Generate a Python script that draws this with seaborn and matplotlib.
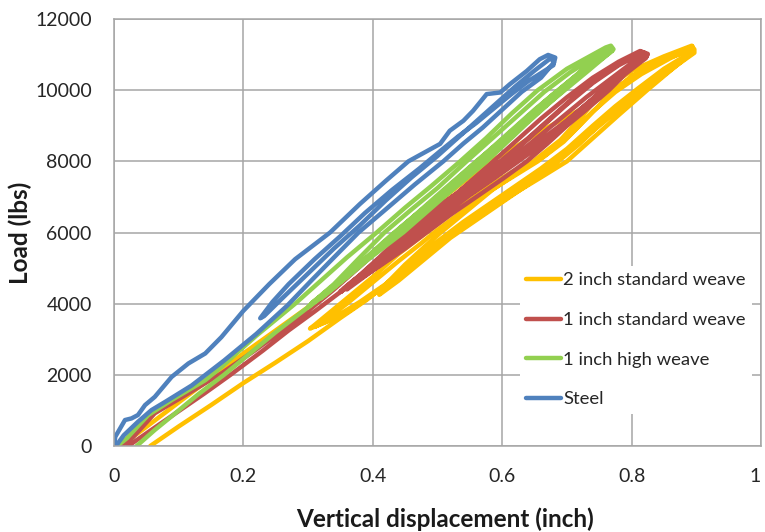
import numpy as np
import pandas as pd
import seaborn as sns
import matplotlib.pyplot as plt

# load-displacement paths, (displacement in inch, load in lbs)
steel_path = [
    (0.0, 0), (0.002, 260), (0.017, 730), (0.027, 775), (0.037, 870), (0.048, 1150), (0.063, 1380),
    (0.089, 1940), (0.115, 2320), (0.141, 2600), (0.166, 3060), (0.2, 3800), (0.24, 4550), (0.28, 5250),
    (0.334, 6000), (0.38, 6800), (0.42, 7450), (0.455, 8000), (0.504, 8490), (0.519, 8860), (0.54, 9140),
    (0.555, 9420), (0.576, 9890), (0.597, 9935), (0.612, 10170), (0.638, 10540), (0.658, 10870),
    (0.671, 10990), (0.682, 10915),
    (0.679, 10700), (0.66, 10480), (0.64, 10250), (0.615, 9900), (0.588, 9500), (0.56, 9080),
    (0.532, 8700), (0.505, 8300), (0.472, 7800), (0.43, 7200), (0.388, 6550), (0.35, 5900), (0.31, 5250),
    (0.27, 4550), (0.245, 4050), (0.226, 3590),
    (0.232, 3650), (0.26, 4150), (0.3, 4850), (0.34, 5550), (0.38, 6200), (0.42, 6900), (0.46, 7550),
    (0.5, 8150), (0.54, 8800), (0.58, 9450), (0.62, 10100), (0.65, 10550), (0.675, 10900),
    (0.68, 10780), (0.66, 10350), (0.63, 9950), (0.6, 9450), (0.57, 8950), (0.54, 8500), (0.509, 8000),
    (0.465, 7350), (0.42, 6650), (0.378, 6000), (0.34, 5300), (0.305, 4650), (0.268, 3950), (0.22, 3150),
    (0.17, 2400), (0.12, 1700), (0.08, 1250), (0.058, 1010), (0.037, 680), (0.015, 300), (0.003, 0),
]

high_weave_path = [
    (0.005, 0), (0.02, 220), (0.035, 520), (0.053, 870), (0.089, 1290), (0.115, 1570), (0.141, 1850),
    (0.166, 2220), (0.192, 2650), (0.22, 3100), (0.25, 3550), (0.28, 4000), (0.32, 4650), (0.36, 5300),
    (0.406, 6000), (0.45, 6700), (0.49, 7300), (0.535, 8000), (0.575, 8650), (0.615, 9350),
    (0.655, 10000), (0.7, 10600), (0.74, 11000), (0.76, 11200), (0.768, 11250),
    (0.772, 11150), (0.75, 10850), (0.72, 10450), (0.695, 10000), (0.64, 9100), (0.576, 8000),
    (0.51, 7000), (0.447, 6000), (0.375, 5000), (0.305, 4000),
    (0.31, 4080), (0.35, 4650), (0.39, 5300), (0.43, 5950), (0.47, 6550), (0.51, 7150), (0.55, 7800),
    (0.59, 8450), (0.63, 9100), (0.67, 9750), (0.71, 10350), (0.745, 10900), (0.765, 11200),
    (0.77, 11100), (0.74, 10700), (0.7, 10100), (0.66, 9450), (0.62, 8800), (0.57, 8000), (0.52, 7250),
    (0.47, 6500), (0.42, 5700), (0.37, 4900), (0.32, 4150),
    (0.325, 4300), (0.37, 4950), (0.41, 5600), (0.45, 6250), (0.49, 6850), (0.53, 7500), (0.57, 8150),
    (0.61, 8800), (0.65, 9450), (0.69, 10050), (0.73, 10650), (0.762, 11150),
    (0.766, 11050), (0.73, 10500), (0.69, 9900), (0.65, 9300), (0.6, 8450), (0.55, 7650), (0.5, 6900),
    (0.44, 6000), (0.38, 5050), (0.33, 4300), (0.3, 3900),
    (0.305, 4000), (0.34, 4550), (0.38, 5300), (0.418, 6000), (0.46, 6650), (0.5, 7250), (0.545, 8000),
    (0.585, 8650), (0.625, 9300), (0.665, 9950), (0.705, 10500), (0.745, 10950), (0.766, 11200),
    (0.77, 11120), (0.745, 10800), (0.715, 10350), (0.68, 9900), (0.64, 9250), (0.6, 8600),
    (0.56, 8000), (0.5, 7050), (0.435, 6000), (0.37, 4950), (0.31, 4050), (0.3, 3900),
    (0.25, 3200), (0.21, 2600), (0.17, 2000), (0.13, 1450), (0.09, 850), (0.063, 450), (0.035, 0),
]

std1_path = [
    (0.012, 0), (0.03, 260), (0.063, 920), (0.115, 1480), (0.166, 2040), (0.218, 2690), (0.26, 3250),
    (0.3, 3800), (0.34, 4400), (0.39, 5200), (0.44, 6000), (0.49, 6600), (0.53, 7100), (0.58, 7900),
    (0.622, 8580), (0.66, 9200), (0.7, 9800), (0.74, 10350), (0.78, 10800), (0.813, 11100),
    (0.825, 11020),
    (0.822, 10900), (0.79, 10450), (0.765, 10000), (0.73, 9450), (0.7, 9000), (0.67, 8500),
    (0.638, 8000), (0.6, 7500), (0.56, 7000), (0.52, 6500), (0.483, 6000), (0.45, 5550), (0.41, 5050),
    (0.38, 4700), (0.35, 4330),
    (0.355, 4430), (0.38, 4800), (0.41, 5300), (0.447, 5950), (0.49, 6550), (0.53, 7100), (0.565, 7600),
    (0.597, 8000), (0.64, 8650), (0.68, 9300), (0.72, 9950), (0.76, 10500), (0.795, 10900),
    (0.815, 11080),
    (0.82, 10950), (0.785, 10450), (0.755, 10000), (0.72, 9450), (0.68, 8800), (0.645, 8300),
    (0.62, 8000), (0.58, 7450), (0.54, 6950), (0.5, 6400), (0.465, 5900), (0.43, 5350), (0.39, 4800),
    (0.36, 4400),
    (0.365, 4550), (0.4, 5050), (0.435, 5650), (0.47, 6200), (0.51, 6750), (0.55, 7300), (0.585, 7800),
    (0.62, 8300), (0.66, 8950), (0.7, 9600), (0.74, 10200), (0.78, 10700), (0.818, 11060),
    (0.823, 10950), (0.79, 10500), (0.76, 10050), (0.725, 9500), (0.69, 8950), (0.655, 8400),
    (0.625, 8000), (0.59, 7550), (0.55, 7050), (0.51, 6500), (0.47, 5950), (0.43, 5400), (0.39, 4850),
    (0.35, 4330),
    (0.355, 4400), (0.39, 4950), (0.425, 5500), (0.46, 6000), (0.5, 6550), (0.54, 7100), (0.575, 7550),
    (0.61, 8000), (0.65, 8600), (0.69, 9200), (0.73, 9800), (0.77, 10350), (0.81, 10900),
    (0.82, 11050),
    (0.824, 10980), (0.8, 10650), (0.77, 10200), (0.74, 9750), (0.7, 9150), (0.66, 8600), (0.63, 8200),
    (0.6, 7800), (0.56, 7300), (0.52, 6750), (0.48, 6200), (0.44, 5650), (0.4, 5050), (0.37, 4650),
    (0.35, 4330),
    (0.31, 3780), (0.27, 3250), (0.23, 2680), (0.18, 2000), (0.14, 1480), (0.1, 980), (0.06, 480),
    (0.022, 0),
]

std2_path = [
    (0.056, 0), (0.1, 550), (0.15, 1150), (0.2, 1770), (0.25, 2350), (0.3, 2950), (0.35, 3600),
    (0.39, 4100), (0.435, 4750), (0.48, 5400), (0.525, 6000), (0.565, 6450), (0.61, 7000),
    (0.66, 7550), (0.7, 8000), (0.74, 8650), (0.78, 9300), (0.824, 10000), (0.86, 10550), (0.89, 11000),
    (0.897, 11150), (0.897, 11050),
    (0.87, 10700), (0.83, 10150), (0.79, 9600), (0.75, 9000), (0.71, 8400), (0.68, 7950), (0.64, 7450),
    (0.6, 6900), (0.56, 6400), (0.52, 5900), (0.48, 5350), (0.44, 4800), (0.4, 4250), (0.36, 3750),
    (0.33, 3500), (0.303, 3300),
    (0.31, 3400), (0.35, 4000), (0.4, 4750), (0.44, 5400), (0.483, 6000), (0.53, 6650), (0.58, 7300),
    (0.615, 7700), (0.648, 8000), (0.69, 8600), (0.725, 9300), (0.756, 10000), (0.8, 10550),
    (0.85, 10950), (0.893, 11250),
    (0.895, 11050), (0.86, 10650), (0.82, 10150), (0.79, 9700), (0.76, 9200), (0.72, 8500),
    (0.68, 7900), (0.64, 7350), (0.6, 6850), (0.56, 6350), (0.52, 5850), (0.48, 5250), (0.44, 4650),
    (0.41, 4250),
    (0.415, 4450), (0.45, 5100), (0.48, 5600), (0.505, 6000), (0.545, 6600), (0.585, 7200),
    (0.625, 7700), (0.665, 8150), (0.705, 8750), (0.74, 9400), (0.775, 9950), (0.815, 10450),
    (0.86, 10900), (0.895, 11200),
    (0.893, 11080), (0.85, 10600), (0.81, 10050), (0.775, 9550), (0.74, 9000), (0.7, 8350),
    (0.66, 7800), (0.62, 7300), (0.58, 6800), (0.54, 6300), (0.5, 5750), (0.46, 5150), (0.42, 4550),
    (0.38, 4050), (0.34, 3600), (0.31, 3350),
    (0.32, 3450), (0.36, 4000), (0.4, 4600), (0.44, 5200), (0.475, 5700), (0.495, 6000), (0.535, 6550),
    (0.575, 7100), (0.615, 7550), (0.655, 8000), (0.695, 8550), (0.73, 9200), (0.765, 9850),
    (0.8, 10400), (0.85, 10900), (0.894, 11230),
    (0.89, 11120), (0.844, 10820), (0.792, 10260), (0.741, 9650), (0.7, 9250), (0.66, 8850),
    (0.62, 8400), (0.576, 7930), (0.535, 7350), (0.49, 6700), (0.44, 6000), (0.4, 5400), (0.35, 4650),
    (0.3, 3900), (0.25, 3250), (0.2, 2600), (0.16, 2050), (0.12, 1500), (0.08, 950), (0.04, 400),
    (0.009, 0),
]

series = {
    '2 inch standard weave': std2_path,
    '1 inch standard weave': std1_path,
    '1 inch high weave': high_weave_path,
    'Steel': steel_path,
}
colors = {
    '2 inch standard weave': '#FFC000',
    '1 inch standard weave': '#C0504D',
    '1 inch high weave': '#92D050',
    'Steel': '#4F81BD',
}

frames = []
for name, pts in series.items():
    arr = np.array(pts, dtype=float)
    frames.append(pd.DataFrame({'material': name, 'step': np.arange(len(arr)),
                                'disp': arr[:, 0], 'load': arr[:, 1]}))
df = pd.concat(frames, ignore_index=True)

sns.set_style('white')
plt.rcParams['font.family'] = ['Lato', 'DejaVu Sans']

fig = plt.figure(figsize=(7.65, 5.32), dpi=100)
ax = fig.add_axes([114 / 765, 1 - 446 / 532, 647 / 765, 427 / 532])

for name in series:
    sns.lineplot(data=df[df['material'] == name], x='disp', y='load', sort=False, estimator=None,
                 color=colors[name], lw=3.2, label=name, ax=ax,
                 solid_capstyle='round', solid_joinstyle='round')

grid_c = '#A6A6A6'
ax.set_xlim(0, 1)
ax.set_ylim(0, 12000)
ax.set_xticks([0, 0.2, 0.4, 0.6, 0.8, 1.0])
ax.set_xticklabels(['0', '0.2', '0.4', '0.6', '0.8', '1'])
ax.set_yticks(range(0, 12001, 2000))
ax.grid(True, color=grid_c, lw=1.1)
ax.set_axisbelow(True)
for sp in ax.spines.values():
    sp.set_color(grid_c)
    sp.set_linewidth(1.1)
ax.tick_params(length=0, pad=16, labelsize=14, colors='#262626')
# keep the last x label inside the figure edge
ax.get_xticklabels()[-1].set_horizontalalignment('right')

ax.set_xlabel('Vertical displacement (inch)', fontsize=17.5, fontweight='bold', color='#1a1a1a')
ax.set_ylabel('Load (lbs)', fontsize=17.5, fontweight='bold', color='#1a1a1a')
ax.xaxis.set_label_coords(0.512, -0.143)
ax.yaxis.set_label_coords(-0.127, 0.5)

leg = ax.legend(loc='upper left', bbox_to_anchor=(0.6275, 0.4215), frameon=True, facecolor='white',
                edgecolor='none', fancybox=False, framealpha=1, fontsize=13.3, handlelength=1.85,
                handletextpad=0.15, labelspacing=1.28, borderpad=0.35, borderaxespad=0)
for t in leg.get_texts():
    t.set_color('#262626')

fig.savefig('out.png', dpi=100)
